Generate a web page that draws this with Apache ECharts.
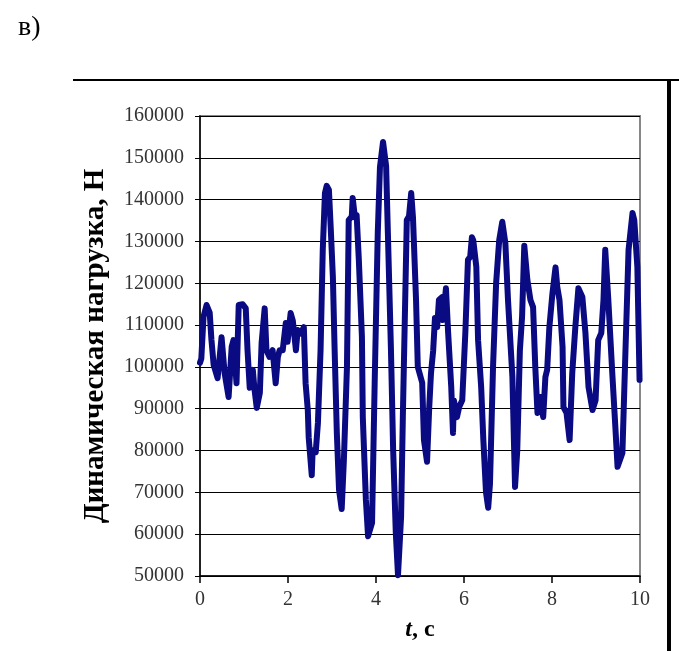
<!DOCTYPE html>
<html>
<head>
<meta charset="utf-8">
<title>Динамическая нагрузка</title>
<script src="https://cdn.jsdelivr.net/npm/echarts@6/dist/echarts.min.js"></script>
<style>
    html, body { margin: 0; padding: 0; background: #fff; }
    #chart { width: 679px; height: 651px; }
</style>
</head>
<body>
<div id="chart"></div>
<script>
    // время, с
    var timeS = [
        0, 0.03, 0.08, 0.15, 0.22, 0.26, 0.31, 0.40, 0.49, 0.56,
        0.65, 0.72, 0.76, 0.83, 0.88, 0.97, 1.04, 1.08, 1.13, 1.20,
        1.24, 1.29, 1.36, 1.40, 1.47, 1.51, 1.58, 1.65, 1.72, 1.77,
        1.81, 1.88, 1.95, 1.99, 2.06, 2.11, 2.18, 2.22, 2.29, 2.36,
        2.40, 2.45, 2.47, 2.54, 2.56, 2.63, 2.68, 2.74, 2.79, 2.84,
        2.88, 2.93, 2.97, 3.02, 3.06, 3.11, 3.16, 3.22, 3.27, 3.34,
        3.38, 3.45, 3.47, 3.52, 3.56, 3.61, 3.68, 3.70, 3.77, 3.82,
        3.91, 3.97, 4.04, 4.09, 4.16, 4.23, 4.27, 4.34, 4.39, 4.45,
        4.50, 4.57, 4.61, 4.70, 4.75, 4.80, 4.84, 4.91, 4.95, 5.05,
        5.09, 5.16, 5.21, 5.25, 5.30, 5.34, 5.39, 5.43, 5.50, 5.52,
        5.59, 5.64, 5.71, 5.75, 5.77, 5.84, 5.89, 5.96, 6.03, 6.09,
        6.14, 6.18, 6.21, 6.28, 6.32, 6.39, 6.44, 6.50, 6.55, 6.59,
        6.66, 6.73, 6.80, 6.87, 6.94, 7.00, 7.10, 7.14, 7.16, 7.21,
        7.27, 7.32, 7.37, 7.44, 7.51, 7.57, 7.62, 7.67, 7.73, 7.80,
        7.85, 7.89, 7.94, 8.01, 8.08, 8.12, 8.17, 8.24, 8.26, 8.33,
        8.40, 8.46, 8.53, 8.60, 8.69, 8.76, 8.83, 8.92, 8.99, 9.05,
        9.12, 9.17, 9.21, 9.28, 9.37, 9.44, 9.49, 9.60, 9.67, 9.74,
        9.83, 9.87, 9.94, 9.99
    ];
    // динамическая нагрузка, Н
    var loadN = [
        101000, 102000, 112000, 114800, 113000, 106500, 100500, 97300, 107100, 98500,
        92800, 104800, 106400, 96100, 114800, 115000, 114000, 104000, 95000, 99300,
        94500, 90200, 93800, 105700, 114000, 104000, 102400, 104000, 96100, 102400,
        104000, 104000, 110500, 106000, 112900, 111000, 104000, 108800, 108000, 109500,
        96100, 89700, 83200, 74100, 80000, 79600, 86600, 104000, 128000, 141600,
        143300, 142300, 133500, 121500, 104000, 84200, 70600, 66000, 77700, 100000,
        135100, 136000, 140400, 135800, 136300, 125600, 107200, 88000, 68200, 59500,
        62700, 96200, 132000, 147800, 153800, 148000, 132000, 104000, 80100, 60300,
        50200, 64100, 88000, 135100, 136000, 141600, 135800, 116000, 100000, 96200,
        82500, 77300, 90400, 98500, 104000, 111700, 109500, 116000, 116700, 111200,
        118800, 108100, 95200, 84200, 92000, 88000, 90400, 92000, 108100, 125600,
        126300, 131000, 130300, 123900, 106400, 95200, 82500, 70000, 66300, 72000,
        100000, 120000, 130300, 134700, 129600, 116000, 97600, 80100, 71300, 80000,
        104000, 112000, 129000, 120800, 116000, 114300, 100000, 89000, 92800, 88000,
        97600, 99300, 109500, 117600, 123800, 119100, 116000, 104800, 90400, 89000,
        82500, 98500, 109500, 118800, 116700, 108100, 95200, 89700, 92000, 106400,
        108100, 116000, 128000, 116000, 98500, 85600, 76100, 79400, 104000, 128000,
        136800, 135100, 123900, 96900
    ];
    var xTicks = [0, 2, 4, 6, 8, 10];
    var yTicks = [50000, 60000, 70000, 80000, 90000, 100000, 110000, 120000, 130000, 140000, 150000, 160000];

    var seriesData = timeS.map(function (t, i) { return [t, loadN[i]]; });
    var serif = '"Liberation Serif", "DejaVu Serif", serif';

    var chart = echarts.init(document.getElementById('chart'), null, {renderer: 'canvas'});
    chart.setOption({
        animation: false,
        backgroundColor: '#fff',
        grid: {
            left: 200, right: 39, top: 116, bottom: 75,
            show: true, borderColor: '#888', borderWidth: 2, backgroundColor: 'transparent'
        },
        graphic: [
            {type: 'text', left: 18, top: 14, style: {text: 'в)', fontSize: 28, fontFamily: serif, fill: '#000'}},
            {type: 'line', shape: {x1: 73, y1: 80, x2: 679, y2: 80}, style: {stroke: '#000', lineWidth: 2}},
            {type: 'line', shape: {x1: 669, y1: 80, x2: 669, y2: 651}, style: {stroke: '#000', lineWidth: 4}}
        ],
        xAxis: {
            type: 'value',
            min: xTicks[0], max: xTicks[xTicks.length - 1], interval: 2,
            name: '{i|t}{b|, с}',
            nameLocation: 'middle', nameGap: 42,
            nameTextStyle: {
                rich: {
                    i: {fontStyle: 'italic', fontWeight: 'bold', fontSize: 24, fontFamily: serif, color: '#000'},
                    b: {fontWeight: 'bold', fontSize: 24, fontFamily: serif, color: '#000'}
                }
            },
            axisLine: {lineStyle: {color: '#000', width: 1.5}},
            axisTick: {show: true, inside: false, length: 7, lineStyle: {color: '#000', width: 1.5}},
            axisLabel: {margin: 14, fontSize: 20, fontFamily: serif, color: '#333'},
            splitLine: {show: false}
        },
        yAxis: {
            type: 'value',
            min: yTicks[0], max: yTicks[yTicks.length - 1], interval: 10000,
            name: 'Динамическая нагрузка, Н',
            nameLocation: 'middle', nameGap: 90,
            nameTextStyle: {fontWeight: 'bold', fontSize: 29, fontFamily: serif, color: '#000'},
            axisLine: {lineStyle: {color: '#000', width: 1.5}},
            axisTick: {show: true, inside: false, length: 5, lineStyle: {color: '#000'}},
            axisLabel: {
                margin: 16, fontSize: 20, fontFamily: serif, color: '#333',
                formatter: function (v) { return String(v); }
            },
            splitLine: {show: true, lineStyle: {color: '#000', width: 1.2}}
        },
        series: [{
            type: 'line',
            data: seriesData,
            showSymbol: false,
            smooth: false,
            lineStyle: {color: '#0a0a82', width: 6, join: 'round', cap: 'round'},
            z: 3
        }]
    });
</script>
</body>
</html>
